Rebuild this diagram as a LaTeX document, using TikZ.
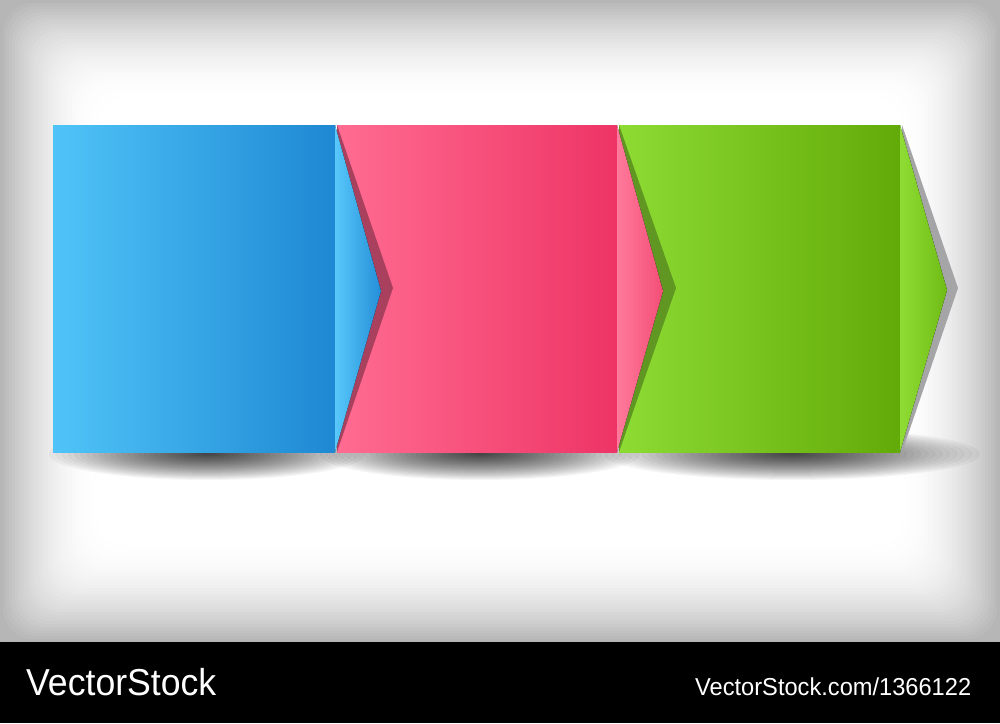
\documentclass[tikz,border=0pt]{standalone}
\usepackage{fontspec}
\setmainfont{Liberation Sans}
\definecolor{bggray}{RGB}{182,182,182}
\definecolor{blueL}{RGB}{80,196,248}
\definecolor{blueR}{RGB}{30,136,211}
\definecolor{blueTL}{RGB}{88,200,250}
\definecolor{blueTR}{RGB}{36,142,216}
\definecolor{pinkL}{RGB}{255,108,145}
\definecolor{pinkR}{RGB}{238,52,102}
\definecolor{pinkTL}{RGB}{255,122,155}
\definecolor{pinkTR}{RGB}{243,78,118}
\definecolor{greenL}{RGB}{142,219,52}
\definecolor{greenR}{RGB}{98,170,8}
\definecolor{greenTL}{RGB}{142,220,52}
\definecolor{greenTR}{RGB}{112,188,22}
\definecolor{shPink}{RGB}{168,64,94}
\definecolor{shGreen}{RGB}{96,150,34}
\definecolor{shGray}{RGB}{165,165,168}
\tikzset{
  panel/.style={shading=axis, shading angle=90},
  floorlayer/.style={fill=black, opacity=0.04},
  brand/.style={text=white, inner sep=0pt, anchor=base west, transform shape}
}
\begin{document}
\begin{tikzpicture}[x=1pt,y=-1pt]
\useasboundingbox (0,0) rectangle (1000,723);
% vignette background
\fill[bggray] (0,0) rectangle (1000,642);
\foreach \i in {1,...,34} {
  \pgfmathsetmacro\pct{100*(1-(1-\i/34)^2)}
  \fill[white!\pct!bggray, rounded corners=30] (3*\i,3*\i) rectangle (1000-3*\i,642-3*\i);
}
% floor shadows
\foreach \cx/\rx in {207/158, 480/160, 792/188}
  \foreach \k in {1,...,30}
    \fill[floorlayer] (\cx,454) ellipse [x radius={\rx*(\k/30)^1.2}, y radius={26*(\k/30)^1.2}];
% green panel
\fill[panel, left color=greenL, right color=greenR] (619,125) rectangle (900,452);
\fill[shGray] (902,125) -- (958,288) -- (902,452) -- cycle;
\fill[panel, left color=greenTL, right color=greenTR] (900,125) -- (947,290) -- (900,452) -- cycle;
% pink panel
\fill[panel, left color=pinkL, right color=pinkR] (337,125) rectangle (617,452);
\fill[shGreen] (619,125) -- (676,288) -- (619,452) -- cycle;
\fill[panel, left color=pinkTL, right color=pinkTR] (617,125) -- (663,291) -- (617,452) -- cycle;
% blue panel
\fill[panel, left color=blueL, right color=blueR] (53,125) rectangle (335,452);
\fill[shPink] (337,125) -- (393,288) -- (337,452) -- cycle;
\fill[panel, left color=blueTL, right color=blueTR] (335,125) -- (381,291) -- (335,452) -- cycle;
% footer bar
\fill[black] (0,642) rectangle (1000,723);
\node[brand, xscale=0.95, font=\fontsize{37.5}{40}\selectfont] (logo) at (26,695) {VectorStock};
\node[brand, xscale=0.965, font=\fontsize{24.5}{28}\selectfont] (url) at (695,695) {VectorStock.com/1366122};
\end{tikzpicture}
\end{document}
